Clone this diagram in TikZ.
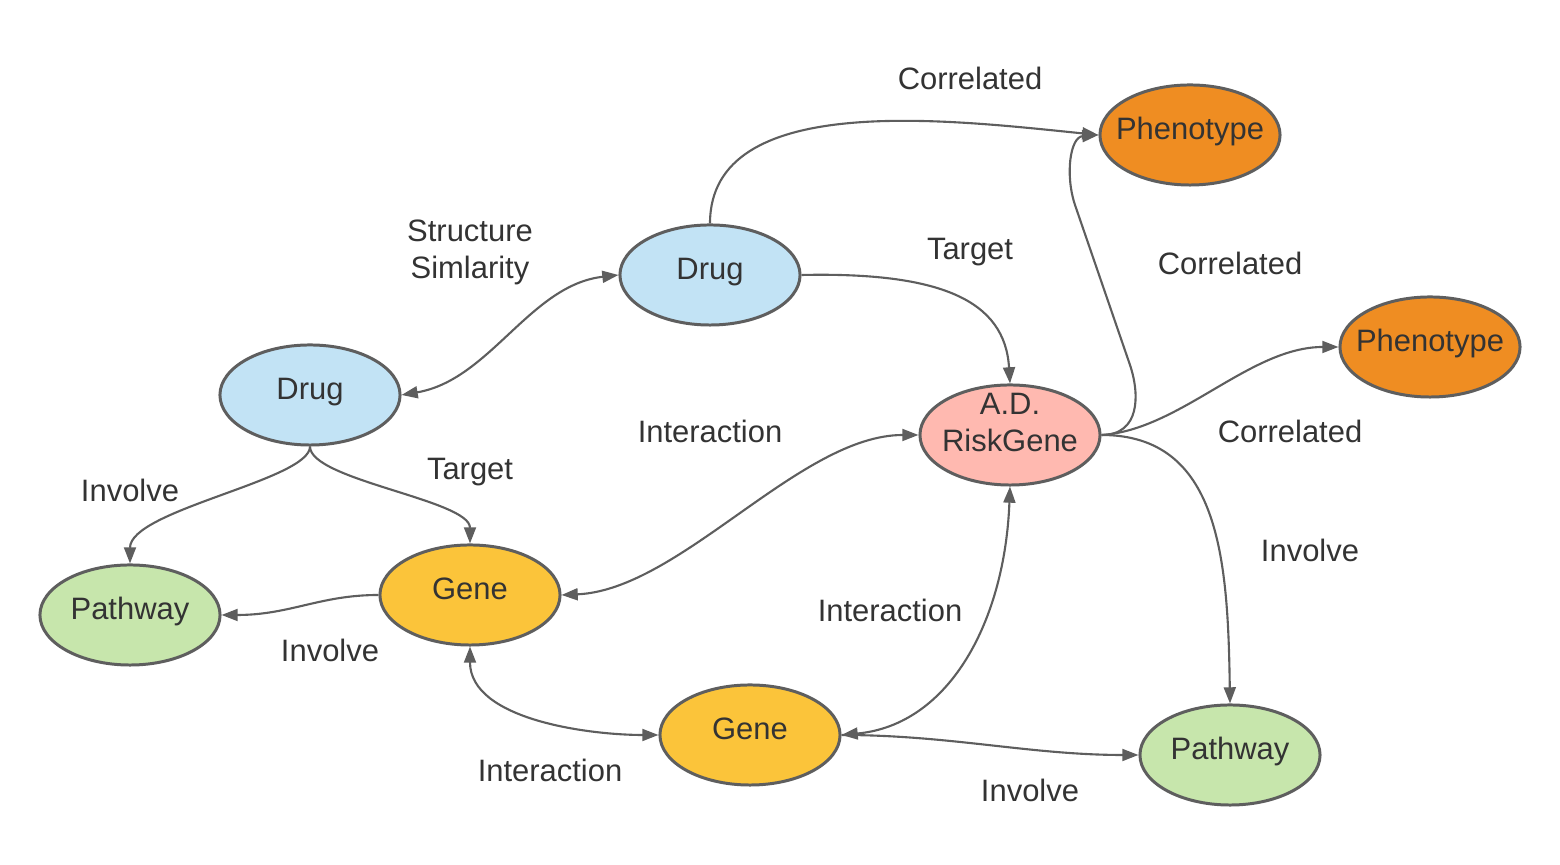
\documentclass[tikz,border=0pt]{standalone}
\usepackage{fontspec}
\setmainfont{Liberation Sans}
\usetikzlibrary{shapes.geometric,arrows.meta}

\definecolor{edgegray}{HTML}{5E5E5E}
\definecolor{txtgray}{HTML}{333333}
\definecolor{drugblue}{HTML}{C2E3F5}
\definecolor{phenoorange}{HTML}{EF8D22}
\definecolor{riskpink}{HTML}{FFB9B0}
\definecolor{geneyellow}{HTML}{FBC43A}
\definecolor{pathgreen}{HTML}{C7E6AC}

\tikzset{
  ent/.style={ellipse, draw=edgegray, line width=0.85pt, minimum width=1.8cm,
    minimum height=1cm, inner xsep=-0.15cm, inner ysep=-0.15cm, text=txtgray, align=center,
    text height=0.22cm, text depth=0.12cm},
  lbl/.style={text=txtgray, align=center},
  rel/.style={draw=edgegray, line width=0.6pt,
    -{Triangle[length=4.6pt,width=3.4pt]}},
  birel/.style={rel, {Triangle[length=4.6pt,width=3.4pt]}-{Triangle[length=4.6pt,width=3.4pt]}},
}

\begin{document}
\begin{tikzpicture}[x=0.01cm, y=-0.01cm, font=\fontsize{8.8}{10.5}\selectfont]
                \useasboundingbox (0,0) rectangle (1560,865);
                % Nodes:
                \node[ent, fill=drugblue](drugT) at (710, 275){Drug};
                \node[ent, fill=drugblue](drugL) at (310, 395){Drug};
                \node[ent, fill=phenoorange](phenoT) at (1190, 135){Phenotype};
                \node[ent, fill=phenoorange](phenoR) at (1430, 347){Phenotype};
                \node[ent, fill=riskpink, text height=, text depth=0.25cm](risk) at (1010, 435){A.D.\\RiskGene};
                \node[ent, fill=geneyellow](geneL) at (470, 595){Gene};
                \node[ent, fill=geneyellow](geneB) at (750, 735){Gene};
                \node[ent, fill=pathgreen](pathL) at (130, 615){Pathway};
                \node[ent, fill=pathgreen](pathR) at (1230, 755){Pathway};
                % Edge labels:
                \node[lbl](lCorrT) at (970, 78){Correlated};
                \node[lbl](lStruct) at (470, 252){Structure\\Simlarity};
                \node[lbl](lTargT) at (970, 252){Target};
                \node[lbl](lCorrM) at (1230, 263){Correlated};
                \node[lbl](lInterT) at (710, 431){Interaction};
                \node[lbl](lCorrR) at (1290, 431){Correlated};
                \node[lbl](lTargL) at (470, 472){Target};
                \node[lbl](lInvTL) at (130, 490){Involve};
                \node[lbl](lInvR) at (1310, 550){Involve};
                \node[lbl](lInterM) at (890, 610){Interaction};
                \node[lbl](lInvL) at (330, 650){Involve};
                \node[lbl](lInterB) at (550, 770){Interaction};
                \node[lbl](lInvB) at (1030, 790){Involve};
                % Connectors:
                \draw[rel] (drugT.north) .. controls (710, 90) and (950, 120) .. (phenoT.west);
                \draw[birel] (drugL.east) .. controls (490, 380) and (530, 285) .. (drugT.west);
                \draw[rel] (drugT.east) .. controls (940, 272) and (1005, 300) .. (risk.north);
                \draw[rel] (risk.east) .. controls (1140, 435) and (1140, 395) .. (1130, 365)
                    -- (1075, 205) .. controls (1065, 175) and (1070, 137) .. (phenoT.west);
                \draw[rel] (risk.east) .. controls (1180, 430) and (1250, 347) .. (phenoR.west);
                \draw[rel] (risk.east) .. controls (1220, 435) and (1228, 560) .. (pathR.north);
                \draw[birel] (geneL.east) .. controls (680, 590) and (800, 435) .. (risk.west);
                \draw[birel] (geneB.east) .. controls (950, 725) and (1005, 620) .. (risk.south);
                \draw[rel] (geneB.east) .. controls (950, 735) and (1030, 755) .. (pathR.west);
                \draw[birel] (geneL.south) .. controls (470, 720) and (590, 735) .. (geneB.west);
                \draw[rel] (geneL.west) .. controls (320, 595) and (290, 615) .. (pathL.east);
                \draw[rel] (drugL.south) .. controls (310, 480) and (130, 510) .. (pathL.north);
                \draw[rel] (drugL.south) .. controls (310, 480) and (470, 500) .. (geneL.north);
            \end{tikzpicture}
\end{document}
